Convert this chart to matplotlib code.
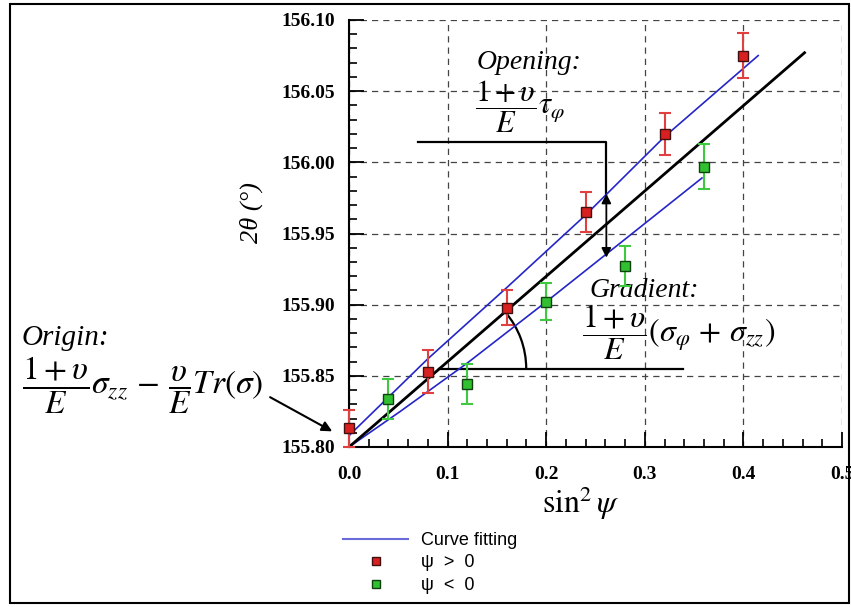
import numpy as np
import matplotlib
matplotlib.use("Agg")
import matplotlib.pyplot as plt
from matplotlib.lines import Line2D
from matplotlib.patches import Arc, Rectangle

plt.rcParams['mathtext.fontset'] = 'stix'
plt.rcParams['font.family'] = ['Liberation Serif', 'DejaVu Serif']

x_pos = [0.0, 0.08, 0.16, 0.24, 0.32, 0.40]
y_pos = [155.813, 155.853, 155.898, 155.965, 156.020, 156.075]
err_pos = [0.013, 0.015, 0.012, 0.014, 0.015, 0.016]

x_neg = [0.04, 0.12, 0.20, 0.28, 0.36]
y_neg = [155.834, 155.844, 155.902, 155.927, 155.997]
err_neg = [0.014, 0.014, 0.013, 0.014, 0.016]

# 拟合线
fit_x = [0.0, 0.462]
fit_y = [155.800, 156.077]
upper_x = [0.0, 0.08, 0.16, 0.24, 0.32, 0.415]
upper_y = [155.808, 155.862, 155.912, 155.963, 156.018, 156.075]
lower_x = [0.0, 0.052, 0.12, 0.20, 0.28, 0.358]
lower_y = [155.800, 155.825, 155.859, 155.902, 155.946, 155.989]

x_ticks = [0.0, 0.1, 0.2, 0.3, 0.4, 0.5]
y_ticks = [155.80, 155.85, 155.90, 155.95, 156.00, 156.05, 156.10]

W, H = 851, 607
fig = plt.figure(figsize=(W / 100, H / 100), dpi=100)
ax = fig.add_axes([349 / W, 1 - 447 / H, 493 / W, 427 / H])
ax.set_xlim(0, 0.5)
ax.set_ylim(155.80, 156.10)

# 坐标轴
ax.spines['top'].set_visible(False)
ax.spines['right'].set_visible(False)
for s in ['left', 'bottom']:
    ax.spines[s].set_linewidth(1.5)
ax.set_xticks(x_ticks)
ax.set_yticks(y_ticks)
ax.set_xticks(np.arange(0, 0.5001, 0.02), minor=True)
ax.set_yticks(np.arange(155.80, 156.1001, 0.01), minor=True)
tick_font = {'family': 'Liberation Serif', 'weight': 'bold', 'size': 14}
ax.set_xticklabels([f"{v:.1f}" for v in x_ticks], fontdict=tick_font)
ax.set_yticklabels([f"{v:.2f}" for v in y_ticks], fontdict=tick_font)
ax.tick_params(which='major', direction='in', length=11, width=1.3)
ax.tick_params(which='minor', direction='in', length=6, width=1.2)
ax.tick_params(axis='x', which='major', pad=14)
ax.tick_params(axis='y', which='major', pad=10)
ax.grid(True, which='major', linestyle=(0, (5, 4)), color='#444444', lw=0.9)

ax.text(-0.199, 0.548, "2θ (°)", transform=ax.transAxes, rotation=90,
        ha='center', va='center', style='italic', fontsize=19)
ax.text(0.471, -0.132, r"$\sin^2\psi$", transform=ax.transAxes,
        ha='center', va='center', fontsize=23)

# 曲线
ax.plot(upper_x, upper_y, color='#2525c8', lw=1.2, zorder=3)
ax.plot(lower_x, lower_y, color='#2525c8', lw=1.2, zorder=3)
ax.plot(fit_x, fit_y, color='black', lw=2.0, zorder=3)

ax.errorbar(x_pos, y_pos, yerr=err_pos, fmt='s', ms=7, mfc='#d92020', mec='#401010',
            ecolor='#e04040', elinewidth=1.5, capsize=4, capthick=1.5, zorder=4, clip_on=False)
ax.errorbar(x_neg, y_neg, yerr=err_neg, fmt='s', ms=7, mfc='#30c030', mec='#104010',
            ecolor='#40c840', elinewidth=1.5, capsize=4, capthick=1.5, zorder=4, clip_on=False)

# Opening 标注
ax.text(0.183, 156.070, "Opening:", ha='center', va='center', style='italic', fontsize=20)
ax.text(0.128, 156.039, r"$\dfrac{1+\upsilon}{E}\tau_\varphi$", ha='left', va='center', fontsize=22)
ax.plot([0.070, 0.261, 0.261], [156.014, 156.014, 155.978], color='black', lw=1.6)
ax.annotate('', xy=(0.261, 155.933), xytext=(0.261, 155.978),
            arrowprops=dict(arrowstyle='<|-|>', color='black', lw=1.3,
                            mutation_scale=14, shrinkA=0, shrinkB=0))

# Gradient 标注
slope = (fit_y[1] - fit_y[0]) / (fit_x[1] - fit_x[0])
yh = 155.855
x0 = fit_x[0] + (yh - fit_y[0]) / slope
ax.plot([x0, 0.339], [yh, yh], color='black', lw=1.6)
ax.add_patch(Arc((x0, yh), 0.176, 0.122, theta1=0,
                 theta2=np.degrees(np.arctan(slope)), color='black', lw=1.6))
ax.text(0.299, 155.910, "Gradient:", ha='center', va='center', style='italic', fontsize=20)
ax.text(0.236, 155.881, r"$\dfrac{1+\upsilon}{E}(\sigma_\varphi\,+\,\sigma_{zz})$",
        ha='left', va='center', fontsize=23)

# Origin 标注
fig.text(22 / W, 1 - 338 / H, "Origin:", ha='left', va='center', style='italic', fontsize=21)
fig.text(22 / W, 1 - 385 / H, r"$\dfrac{1+\upsilon}{E}\sigma_{zz}\,-\,\dfrac{\upsilon}{E}Tr(\sigma)$",
         ha='left', va='center', fontsize=24)
ax.annotate('', xy=(-0.017, 155.811), xytext=(-0.080, 155.835), annotation_clip=False,
            arrowprops=dict(arrowstyle='-|>', color='black', lw=1.5,
                            mutation_scale=15, shrinkA=0, shrinkB=0))

# 图例
handles = [
    Line2D([], [], color='#6a6ad8', lw=1.5),
    Line2D([], [], ls='none', marker='s', ms=6, mfc='#d92020', mec='#401010'),
    Line2D([], [], ls='none', marker='s', ms=6, mfc='#30c030', mec='#104010'),
]
labels = ["Curve fitting", "ψ  >  0", "ψ  <  0"]
fig.legend(handles, labels, loc='upper left', bbox_to_anchor=(343 / W, 1 - 532 / H),
           frameon=False, prop={'family': 'Liberation Sans', 'size': 13},
           handlelength=3.6, handletextpad=0.7, labelspacing=0.3,
           borderpad=0, borderaxespad=0)

# 外框
fig.add_artist(Rectangle((10 / W, 4 / H), 839 / W, 599 / H, transform=fig.transFigure,
                         fill=False, ec='black', lw=1.5))

fig.savefig("out.png", dpi=100)
